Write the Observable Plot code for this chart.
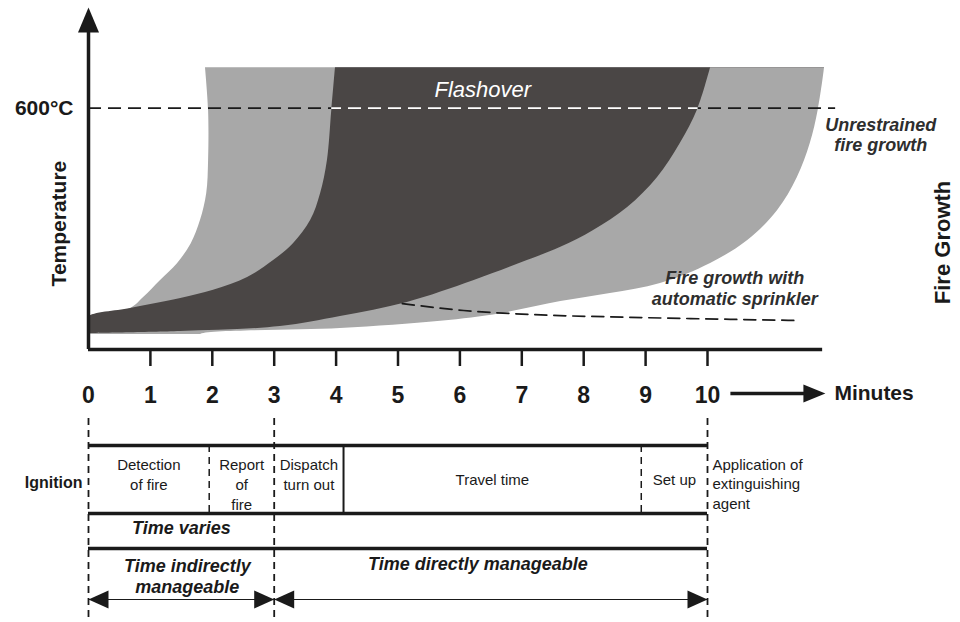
<!DOCTYPE html>
<html>
<head>
<meta charset="utf-8">
<script src="https://cdn.jsdelivr.net/npm/d3@7"></script>
<script src="https://cdn.jsdelivr.net/npm/@observablehq/plot@0.6"></script>
<style>
  html, body { margin: 0; padding: 0; background: #fff; }
  #chart { width: 960px; height: 622px; }
  #chart svg { display: block; }
</style>
</head>
<body>
<div id="chart"></div>
<script>
// ---------------- DATA ----------------
const minuteTicks = [0, 1, 2, 3, 4, 5, 6, 7, 8, 9, 10];

// Unrestrained fire growth band (light grey): left and right edges (minutes, °C)
const unrestrainedLeft = [
  {min: 0, temp: 37}, {min: 0, temp: 60}, {min: 0, temp: 80}, {min: 0.68, temp: 102}, {min: 0.89, temp: 129},
  {min: 1.16, temp: 171}, {min: 1.44, temp: 214}, {min: 1.66, temp: 263}, {min: 1.81, temp: 321},
  {min: 1.91, temp: 388}, {min: 1.94, temp: 470}, {min: 1.94, temp: 594}, {min: 1.89, temp: 700}
];
const unrestrainedRight = [
  {min: 1.81, temp: 37}, {min: 4.07, temp: 52}, {min: 5.69, temp: 70}, {min: 6.66, temp: 89},
  {min: 7.63, temp: 119}, {min: 8.43, temp: 139}, {min: 9.24, temp: 164}, {min: 10.05, temp: 214},
  {min: 10.65, temp: 271}, {min: 11.13, temp: 345}, {min: 11.45, temp: 427}, {min: 11.66, temp: 512},
  {min: 11.79, temp: 596}, {min: 11.89, temp: 700}
];
// Typical fire growth band (dark): left and right edges
const typicalLeft = [
  {min: 0, temp: 40}, {min: 0, temp: 60}, {min: 0, temp: 80}, {min: 0.68, temp: 102}, {min: 1.49, temp: 127},
  {min: 2.02, temp: 147}, {min: 2.57, temp: 179}, {min: 2.99, temp: 221}, {min: 3.31, temp: 263},
  {min: 3.59, temp: 321}, {min: 3.75, temp: 388}, {min: 3.86, temp: 470}, {min: 3.93, temp: 594},
  {min: 3.99, temp: 700}
];
const typicalRight = [
  {min: 0, temp: 40}, {min: 1.49, temp: 45}, {min: 3.10, temp: 57}, {min: 4.07, temp: 82},
  {min: 5.15, temp: 117}, {min: 6.22, temp: 171}, {min: 7.09, temp: 221}, {min: 7.63, temp: 254},
  {min: 8.16, temp: 296}, {min: 8.71, temp: 353}, {min: 9.19, temp: 427}, {min: 9.56, temp: 512},
  {min: 9.84, temp: 596}, {min: 10.05, temp: 700}
];
// Fire growth with automatic sprinkler (dashed)
const sprinkler = [
  {min: 5.07, temp: 114}, {min: 6.06, temp: 97}, {min: 7.14, temp: 87},
  {min: 8.76, temp: 80}, {min: 10.37, temp: 75}, {min: 11.50, temp: 72}
];
const flashoverTemp = 600;
const flashoverSpan = [3.93, 9.85];   // dark band edges at 600 °C
const axisTopTemp = 850;

// Time line
const phaseNames  = ["Detection\nof fire", "Report\nof\nfire", "Dispatch\nturn out", "Travel time", "Set up"];
const phaseStarts = [0, 1.95, 3, 4.12, 8.93];
const phaseEnds   = [1.95, 3, 4.12, 8.93, 10];
const guideMinutes = [0, 3, 10];
const milestones = [
  {min: 0, label: "Ignition"},
  {min: 10, label: "Application of\nextinguishing\nagent"}
];
const variesSpan = [{start: 0, end: 3, label: "Time varies"}];
const manageSpans = [
  {start: 0, end: 3, label: "Time indirectly\nmanageable"},
  {start: 3, end: 10, label: "Time directly manageable"}
];

const phases = phaseNames.map((name, i) => ({name, start: phaseStarts[i], end: phaseEnds[i]}));

// ---------------- LAYOUT ----------------
const W = 960, TOP_H = 415, BOT_H = 207;
const ML = 88, MR = 253;
const pxPerMin = (W - ML - MR) / 10;
const FONT = "'Liberation Sans', Arial, Helvetica, sans-serif";
const INK = "#1a1a1a", DARK = "#4a4645", LIGHT = "#a8a8a8";
const FAR = 12.6; // right limit for fills
const CURVE = "catmull-rom";

const desc = (arr) => arr.slice().sort((a, b) => b.temp - a.temp);
// the white mask reaches a hair beyond the grey band so no anti-aliased seams remain
const maskEdge = (arr) => {
  const s = desc(arr);
  return [{min: s[0].min, temp: s[0].temp + 4}, ...s, {min: s[s.length - 1].min, temp: s[s.length - 1].temp - 4}];
};

function triangle(width) {
  return {draw(ctx, l) { ctx.moveTo(0, -l); ctx.lineTo(width / 2, 0); ctx.lineTo(-width / 2, 0); ctx.closePath(); }};
}
function shaftArrow(width, head, shaft) {
  return {draw(ctx, l) {
    const s = shaft / 2, w = width / 2, b = -l + head;
    ctx.moveTo(-s, 0); ctx.lineTo(-s, b); ctx.lineTo(-w, b); ctx.lineTo(0, -l);
    ctx.lineTo(w, b); ctx.lineTo(s, b); ctx.lineTo(s, 0); ctx.closePath();
  }};
}
const DASH = 20; // 13 + 7
const dashOffset = (fromMin) => ((fromMin * pxPerMin) % DASH);

// ---------------- TOP CHART ----------------
const topChart = Plot.plot({
  width: W, height: TOP_H,
  marginLeft: ML, marginRight: MR, marginTop: 7, marginBottom: TOP_H - 349,
  x: {domain: [0, 10], axis: null},
  y: {domain: [0, axisTopTemp], axis: null},
  style: {fontFamily: FONT, color: INK, background: "#fff", overflow: "visible"},
  marks: [
    Plot.areaX(desc(unrestrainedLeft), {y: "temp", x1: "min", x2: FAR, fill: LIGHT, curve: CURVE}),
    Plot.areaX(desc(typicalLeft), {y: "temp", x1: "min", x2: FAR, fill: DARK, curve: CURVE}),
    Plot.areaX(desc(typicalRight), {y: "temp", x1: "min", x2: FAR, fill: LIGHT, curve: CURVE}),
    Plot.areaX(maskEdge(unrestrainedRight), {y: "temp", x1: "min", x2: FAR + 0.5, fill: "#fff", curve: CURVE}),
    // sprinkler curve
    Plot.line(sprinkler, {x: "min", y: "temp", stroke: INK, strokeWidth: 1.7, strokeDasharray: "12,7", curve: "monotone-x"}),
    // 600 °C line
    Plot.ruleY([flashoverTemp], {x1: 0, x2: flashoverSpan[0], stroke: INK, strokeWidth: 1.6, strokeDasharray: "13,7"}),
    Plot.ruleY([flashoverTemp], {x1: flashoverSpan[0], x2: flashoverSpan[1], stroke: "#fff", strokeWidth: 1.6, strokeDasharray: "13,7", strokeDashoffset: dashOffset(flashoverSpan[0])}),
    Plot.ruleY([flashoverTemp], {x1: flashoverSpan[1], x2: 12.07, stroke: INK, strokeWidth: 1.6, strokeDasharray: "13,7", strokeDashoffset: dashOffset(flashoverSpan[1])}),
    // axes
    Plot.ruleY([0], {x1: 0, x2: 11.86, stroke: INK, strokeWidth: 3.5}),
    Plot.ruleX([0], {y1: 0, y2: 800, stroke: INK, strokeWidth: 3.5}),
    Plot.vector([{min: 0, temp: axisTopTemp}], {x: "min", y: "temp", anchor: "end", length: 25, rotate: 0, shape: triangle(21), fill: INK, stroke: "none"}),
    Plot.axisX(minuteTicks.filter((d) => d > 0), {tickSize: 17, tickFormat: () => "", stroke: INK, strokeWidth: 2.5, label: null}),
    Plot.axisX(minuteTicks, {tickSize: 0, tickPadding: 37, fontSize: 23, fontWeight: "bold", fill: INK, label: null}),
    // Minutes arrow + label
    Plot.vector([{min: 10.37, temp: 0}], {x: "min", y: "temp", dy: 44, anchor: "start", length: 95, rotate: 90, shape: shaftArrow(18, 22, 3.5), fill: INK, stroke: "none"}),
    Plot.text(["Minutes"], {x: 12.05, y: 0, dy: 44, text: (d) => d, textAnchor: "start", lineAnchor: "middle", fontSize: 21, fontWeight: "bold", fill: INK}),
    // labels
    Plot.text(["600°C"], {x: 0, y: flashoverTemp, dx: -15, text: (d) => d, textAnchor: "end", fontSize: 21, fontWeight: "bold", fill: INK}),
    Plot.text(["Temperature"], {x: 0, y: 313, dx: -29, rotate: -90, text: (d) => d, fontSize: 21, fontWeight: "bold", fill: INK}),
    Plot.text(["Fire Growth"], {x: 13.8, y: 266, rotate: -90, text: (d) => d, fontSize: 22, fontWeight: "bold", fill: INK}),
    Plot.text(["Flashover"], {x: 6.37, y: 646, text: (d) => d, fontSize: 22, fontStyle: "italic", fill: "#fff"}),
    Plot.text(["Unrestrained\nfire growth"], {x: 12.8, y: 534, text: (d) => d, fontSize: 18, fontStyle: "italic", fontWeight: "bold", fill: "#2e2e2e", lineHeight: 1.12}),
    Plot.text(["Fire growth with\nautomatic sprinkler"], {x: 10.44, y: 153, text: (d) => d, fontSize: 18, fontStyle: "italic", fontWeight: "bold", fill: "#2e2e2e", lineHeight: 1.17})
  ]
});

// ---------------- TIME LINE ----------------
const rows = {guideTop: 3, boxTop: 30, boxBottom: 98, variesBottom: 133, arrow: 184, bottom: BOT_H,
              phaseText: 40.3, phaseMid: 64.5, ignition: 67.5, varies: 113, manage: 141.6};

const bottomChart = Plot.plot({
  width: W, height: BOT_H,
  marginLeft: ML, marginRight: MR, marginTop: 0, marginBottom: 0,
  x: {domain: [0, 10], axis: null},
  y: {domain: [BOT_H, 0], axis: null},
  style: {fontFamily: FONT, color: INK, background: "#fff", overflow: "visible"},
  marks: [
    Plot.ruleX(guideMinutes, {y1: rows.guideTop, y2: rows.bottom, stroke: INK, strokeWidth: 1.8, strokeDasharray: "7,5"}),
    Plot.ruleY([rows.boxTop, rows.boxBottom, rows.variesBottom], {x1: 0, x2: 10, stroke: INK, strokeWidth: 3.5}),
    Plot.ruleX(phases, {filter: (d, i) => i === 1 || i === 4, x: "start", y1: rows.boxTop, y2: rows.boxBottom, stroke: INK, strokeWidth: 1.5, strokeDasharray: "7,5"}),
    Plot.ruleX(phases, {filter: (d, i) => i === 3, x: "start", y1: rows.boxTop, y2: rows.boxBottom, stroke: INK, strokeWidth: 2}),
    // phase labels
    Plot.text(phases, {filter: (d) => d.name.includes("\n"), x: (d) => (d.start + d.end) / 2, y: rows.phaseText, text: "name", lineAnchor: "top", lineHeight: 1.33, fontSize: 15, fill: INK}),
    Plot.text(phases, {filter: (d) => !d.name.includes("\n"), x: (d) => (d.start + d.end) / 2, y: rows.phaseMid, text: "name", lineAnchor: "middle", fontSize: 15, fill: INK}),
    Plot.text(milestones, {filter: (d, i) => i === 0, x: "min", y: rows.ignition, dx: -6, text: "label", textAnchor: "end", fontSize: 16, fontWeight: "bold", fill: INK}),
    Plot.text(milestones, {filter: (d, i) => i === 1, x: "min", y: rows.phaseText, dx: 5, text: "label", textAnchor: "start", lineAnchor: "top", lineHeight: 1.31, fontSize: 15, fill: INK}),
    Plot.text(variesSpan, {x: (d) => (d.start + d.end) / 2, y: rows.varies, text: "label", fontSize: 18, fontStyle: "italic", fontWeight: "bold", fill: INK}),
    Plot.text(manageSpans, {filter: (d, i) => i === 0, x: (d) => (d.start + d.end) / 2, dx: 6, y: rows.manage, text: "label", lineAnchor: "top", lineHeight: 1.17, fontSize: 18, fontStyle: "italic", fontWeight: "bold", fill: INK}),
    Plot.text(manageSpans, {filter: (d, i) => i === 1, x: (d) => (d.start + d.end) / 2, dx: -13, y: rows.manage, text: "label", lineAnchor: "top", fontSize: 18, fontStyle: "italic", fontWeight: "bold", fill: INK}),
    // double arrows
    Plot.ruleY(manageSpans, {x1: "start", x2: "end", y: rows.arrow, stroke: INK, strokeWidth: 1.2}),
    Plot.vector(manageSpans, {x: "start", y: rows.arrow, anchor: "end", length: 20, rotate: -90, shape: triangle(18), fill: INK, stroke: "none"}),
    Plot.vector(manageSpans, {x: "end", y: rows.arrow, anchor: "end", length: 20, rotate: 90, shape: triangle(18), fill: INK, stroke: "none"})
  ]
});

document.getElementById("chart").append(topChart, bottomChart);
</script>
</body>
</html>
